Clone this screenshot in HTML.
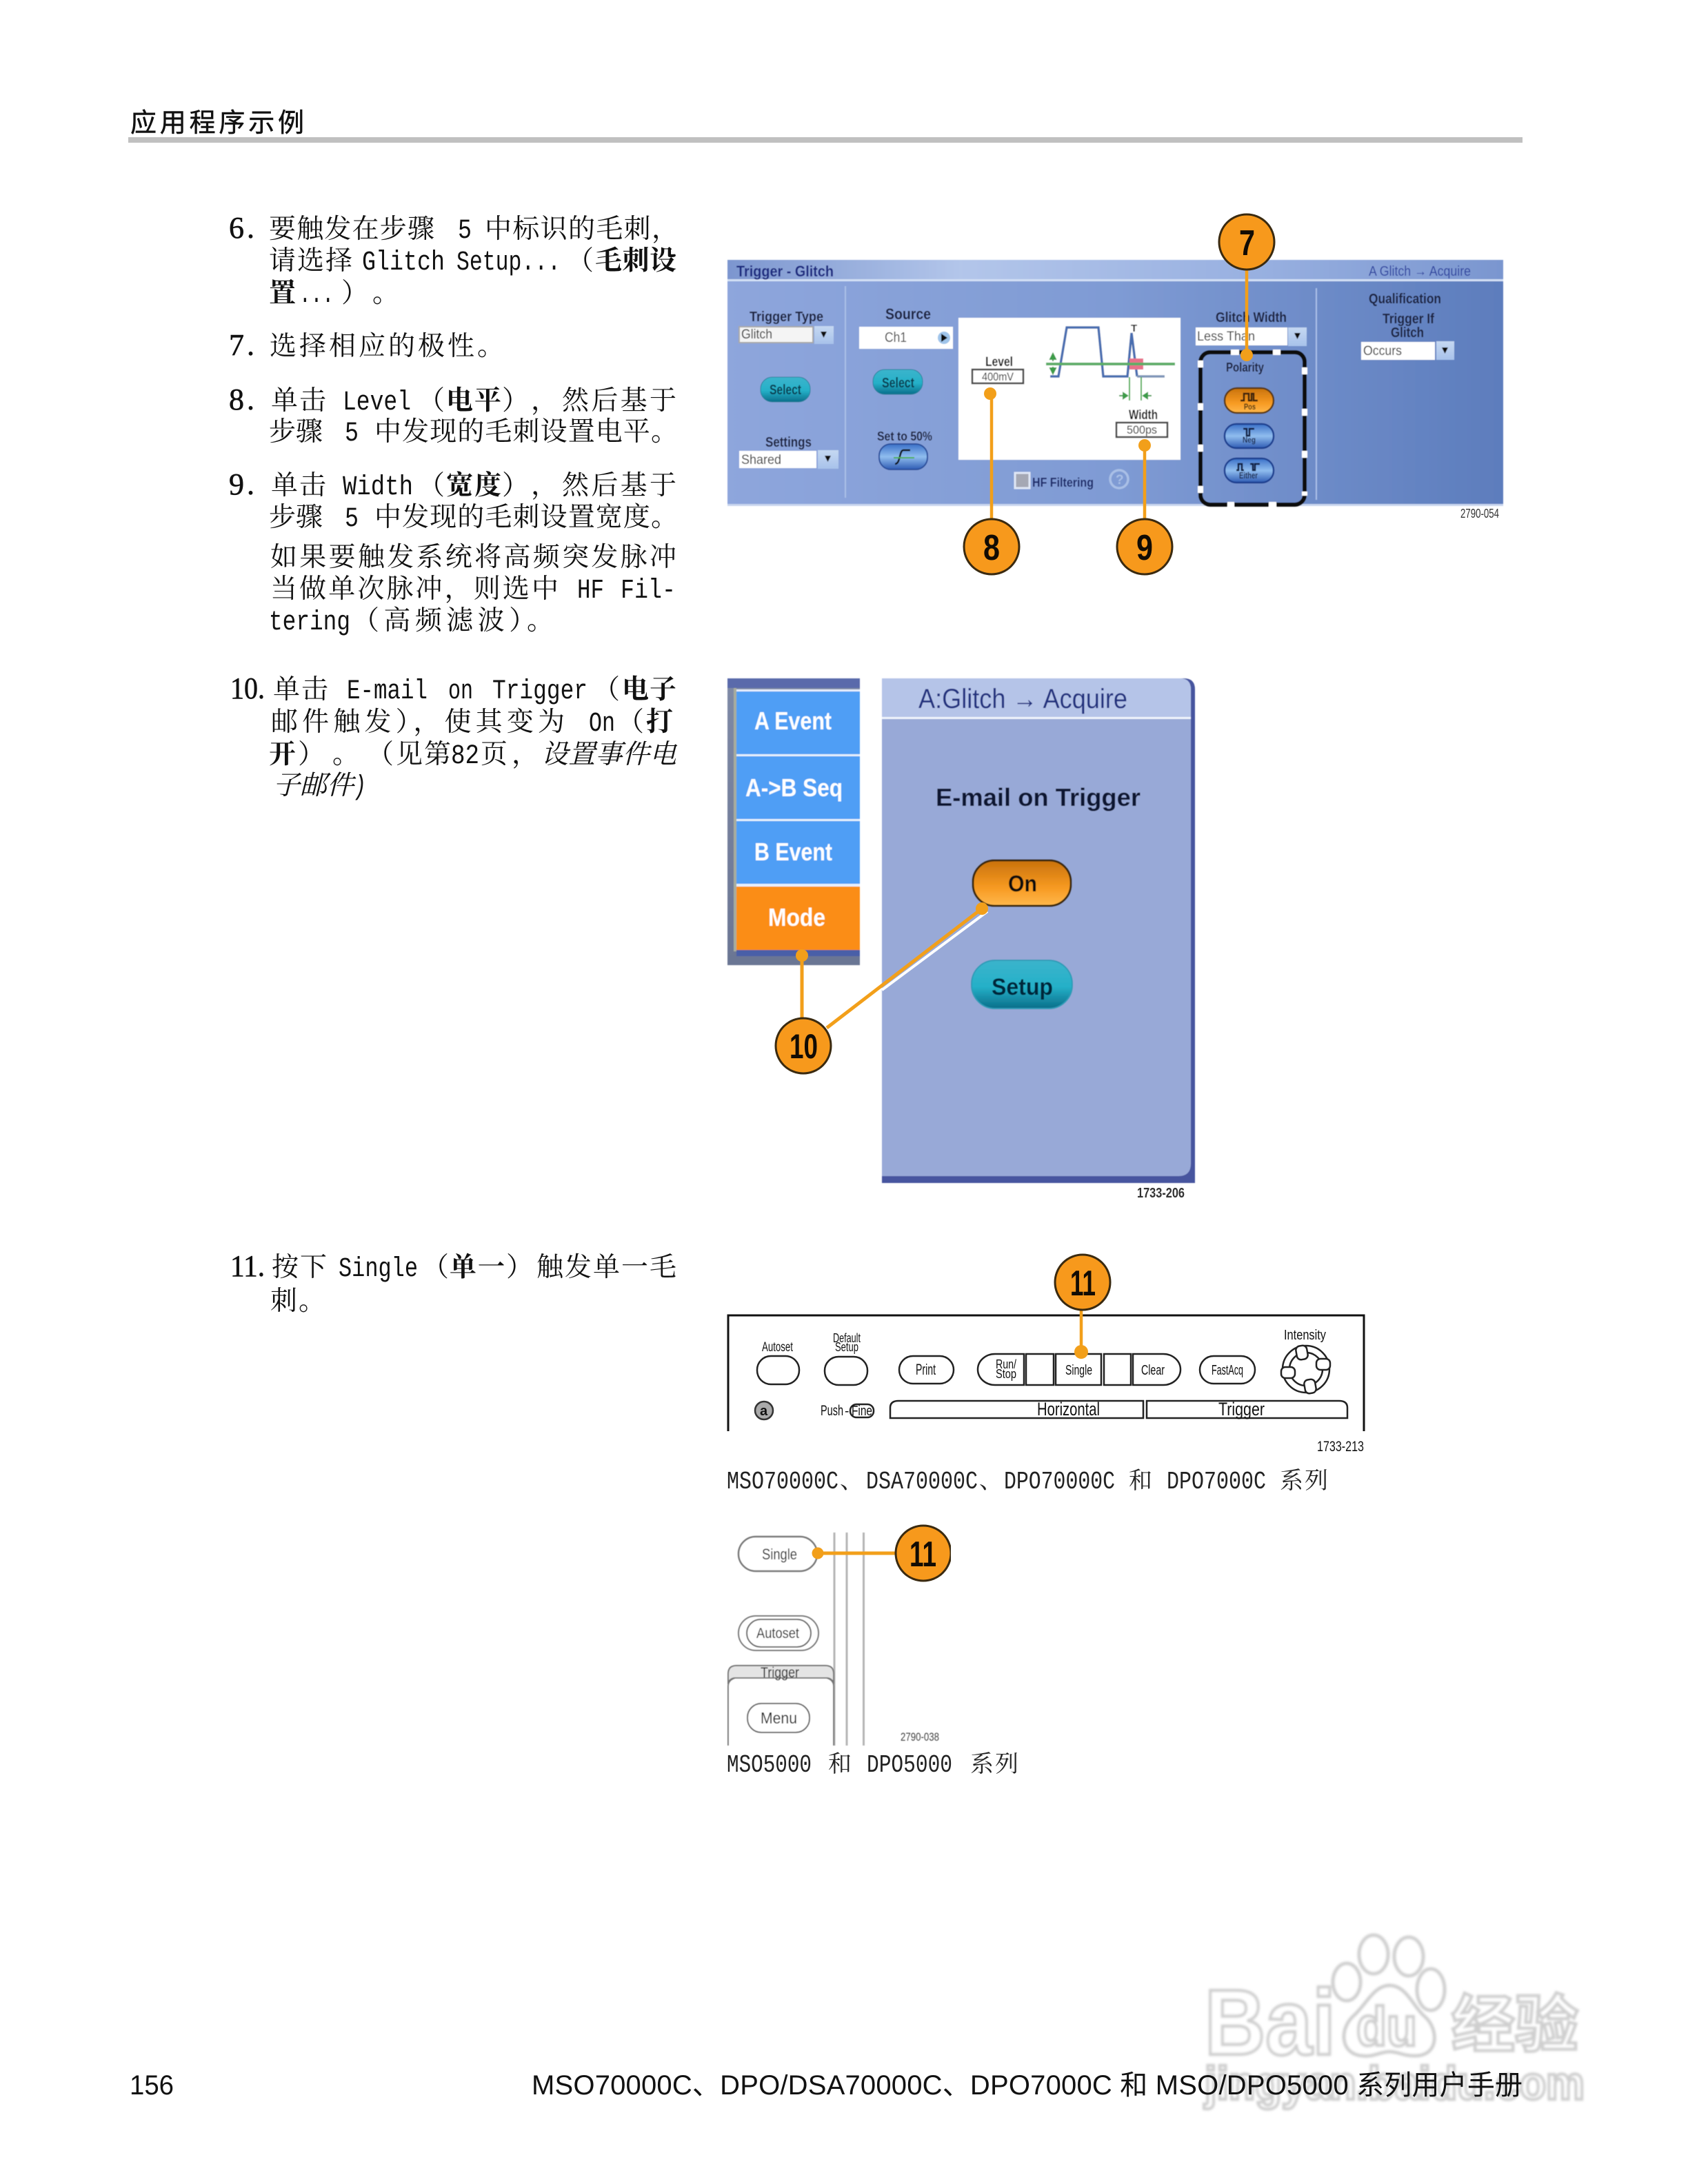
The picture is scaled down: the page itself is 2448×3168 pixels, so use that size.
<!DOCTYPE html>
<html lang="zh"><head><meta charset="utf-8"><title>应用程序示例</title>
<style>
html,body{margin:0;padding:0;background:#fff}
svg{display:block}
text{font-family:"Liberation Sans","Noto Sans CJK SC",sans-serif;fill:#111}
.t{font-family:"Noto Serif CJK SC",serif;font-size:39px;fill:#111}
.tb{font-family:"Noto Serif CJK SC",serif;font-size:39px;fill:#111;font-weight:700}
.ti{font-family:"Noto Serif CJK SC",serif;font-size:39px;fill:#111;font-style:italic}
.m{font-family:"Liberation Mono",monospace;font-size:40px;fill:#111}
.n{font-family:"Liberation Serif",serif;font-size:44px;fill:#111;stroke:#111;stroke-width:.6px}
.c{font-family:"Noto Serif CJK SC",serif;font-size:34px;fill:#222}
.cm{font-family:"Liberation Mono",monospace;font-size:36px;fill:#222}
.u{font-weight:700;fill:#1a2040}
.w{font-weight:700;fill:#fff}
.num{font-weight:700;fill:#120c04}
.k{fill:#111}
.wm{font-weight:700;fill:#fff;stroke:#cfcfcf;stroke-width:4.5px}
</style></head><body>
<svg xmlns="http://www.w3.org/2000/svg" width="2448" height="3168" viewBox="0 0 2448 3168">
<defs>
<linearGradient id="pbg" x1="0" x2="1" y1="0" y2="0"><stop offset="0" stop-color="#8ea6dc"/><stop offset=".5" stop-color="#7f9bd4"/><stop offset="1" stop-color="#5d7dbd"/></linearGradient>
<linearGradient id="tbg" x1="0" x2="1" y1="0" y2="0"><stop offset="0" stop-color="#7c96cf"/><stop offset=".3" stop-color="#b3c6ea"/><stop offset=".7" stop-color="#97afe0"/><stop offset="1" stop-color="#7a96cf"/></linearGradient>
<linearGradient id="teal" x1="0" x2="0" y1="0" y2="1"><stop offset="0" stop-color="#3bb4cc"/><stop offset=".55" stop-color="#25b0c8"/><stop offset="1" stop-color="#0a6e8a"/></linearGradient>
<linearGradient id="blue" x1="0" x2="0" y1="0" y2="1"><stop offset="0" stop-color="#3a70c8"/><stop offset=".5" stop-color="#90bdee"/><stop offset="1" stop-color="#2f5cb4"/></linearGradient>
<linearGradient id="org" x1="0" x2="0" y1="0" y2="1"><stop offset="0" stop-color="#c9720c"/><stop offset=".6" stop-color="#f79a22"/><stop offset="1" stop-color="#ffb84c"/></linearGradient>
<linearGradient id="arr" x1="0" x2="0" y1="0" y2="1"><stop offset="0" stop-color="#c5d8f2"/><stop offset="1" stop-color="#a8c2ea"/></linearGradient>
<linearGradient id="grayb" x1="0" x2="0" y1="0" y2="1"><stop offset="0" stop-color="#7f8aa6"/><stop offset="1" stop-color="#6b7694"/></linearGradient>
<filter id="bl" x="-2%" y="-2%" width="104%" height="104%"><feGaussianBlur stdDeviation="0.55"/></filter>
<filter id="bw" x="-2%" y="-5%" width="104%" height="110%"><feGaussianBlur stdDeviation="1.5"/></filter>
</defs>
<rect width="2448" height="3168" fill="#fff"/>

<!-- watermark -->
<g filter="url(#bw)">
<ellipse cx="1992" cy="2835" rx="21" ry="28" fill="#fff" stroke="#cfcfcf" stroke-width="5"/>
<ellipse cx="2043" cy="2838" rx="21" ry="28" fill="#fff" stroke="#cfcfcf" stroke-width="5"/>
<ellipse cx="1953" cy="2875" rx="20" ry="27" fill="#fff" stroke="#cfcfcf" stroke-width="5"/>
<ellipse cx="2075" cy="2886" rx="20" ry="30" fill="#fff" stroke="#cfcfcf" stroke-width="5"/>
<path d="M2015 2880C2040 2880 2050 2912 2066 2925C2086 2942 2088 2982 2052 2982C2034 2982 2028 2976 2015 2976C2002 2976 1992 2984 1976 2982C1944 2980 1942 2944 1962 2925C1980 2910 1992 2880 2015 2880Z" fill="#fff" stroke="#cfcfcf" stroke-width="5"/>
<text class="wm" x="1747" y="2980" font-size="135" textLength="190" lengthAdjust="spacingAndGlyphs">Bai</text>
<text class="wm" x="1967" y="2967" font-size="80" textLength="88" lengthAdjust="spacingAndGlyphs">du</text>
<text class="wm" x="2105" y="2968" font-size="90" textLength="184" lengthAdjust="spacingAndGlyphs">经验</text>
<text class="wm" x="1747" y="3045" font-size="68" textLength="551" lengthAdjust="spacingAndGlyphs">jingyan.baidu.com</text>
</g>

<!-- header -->
<text x="189" y="191" font-size="38" textLength="252" style="stroke:#111;stroke-width:.5px">应用程序示例</text>
<rect x="186" y="199" width="2022" height="8" fill="#c0c0c0"/>

<!-- step 6 -->
<text class="n" x="332" y="345" letter-spacing="4">6.</text>
<text class="t" x="390" y="345" textLength="240">要触发在步骤</text>
<text class="m" x="664" y="345" textLength="20" lengthAdjust="spacingAndGlyphs">5</text>
<text class="t" x="703" y="345" textLength="281">中标识的毛刺，</text>
<text class="t" x="390" y="391" textLength="121">请选择</text>
<text class="m" x="525" y="391" textLength="120" lengthAdjust="spacingAndGlyphs">Glitch</text>
<text class="m" x="662" y="391" textLength="151" lengthAdjust="spacingAndGlyphs">Setup...</text>
<text class="t" x="822" y="391">（</text>
<text class="tb" x="863" y="391" textLength="118">毛刺设</text>
<text class="tb" x="390" y="438">置</text>
<text class="m" x="434" y="438" textLength="50" lengthAdjust="spacingAndGlyphs">...</text>
<text class="t" x="495" y="438" textLength="84">）。</text>
<!-- step 7 -->
<text class="n" x="332" y="515" letter-spacing="4">7.</text>
<text class="t" x="391" y="515" textLength="340">选择相应的极性。</text>
<!-- step 8 -->
<text class="n" x="332" y="594" letter-spacing="4">8.</text>
<text class="t" x="393" y="594" textLength="80">单击</text>
<text class="m" x="497" y="594" textLength="99" lengthAdjust="spacingAndGlyphs">Level</text>
<text class="t" x="606" y="594">（</text>
<text class="tb" x="647" y="594" textLength="80">电平</text>
<text class="t" x="728" y="594">）</text>
<text class="t" x="770" y="594">，</text>
<text class="t" x="815" y="594" textLength="166">然后基于</text>
<text class="t" x="390" y="639" textLength="78">步骤</text>
<text class="m" x="500" y="639" textLength="20" lengthAdjust="spacingAndGlyphs">5</text>
<text class="t" x="543" y="639" textLength="440">中发现的毛刺设置电平。</text>
<!-- step 9 -->
<text class="n" x="332" y="717" letter-spacing="4">9.</text>
<text class="t" x="393" y="717" textLength="80">单击</text>
<text class="m" x="497" y="717" textLength="102" lengthAdjust="spacingAndGlyphs">Width</text>
<text class="t" x="606" y="717">（</text>
<text class="tb" x="647" y="717" textLength="80">宽度</text>
<text class="t" x="728" y="717">）</text>
<text class="t" x="770" y="717">，</text>
<text class="t" x="815" y="717" textLength="166">然后基于</text>
<text class="t" x="390" y="763" textLength="78">步骤</text>
<text class="m" x="500" y="763" textLength="20" lengthAdjust="spacingAndGlyphs">5</text>
<text class="t" x="543" y="763" textLength="440">中发现的毛刺设置宽度。</text>
<text class="t" x="392" y="821" textLength="589">如果要触发系统将高频突发脉冲</text>
<text class="t" x="392" y="867" textLength="418">当做单次脉冲，则选中</text>
<text class="m" x="837" y="867" textLength="39" lengthAdjust="spacingAndGlyphs">HF</text>
<text class="m" x="900" y="867" textLength="80" lengthAdjust="spacingAndGlyphs">Fil-</text>
<text class="m" x="390" y="913" textLength="118" lengthAdjust="spacingAndGlyphs">tering</text>
<text class="t" x="511" y="913" textLength="292">（高频滤波）。</text>

<!-- step 10 -->
<text class="n" x="334" y="1013" textLength="50" lengthAdjust="spacingAndGlyphs">10.</text>
<text class="t" x="396" y="1013" textLength="80">单击</text>
<text class="m" x="503" y="1013" textLength="117" lengthAdjust="spacingAndGlyphs">E-mail</text>
<text class="m" x="650" y="1013" textLength="36" lengthAdjust="spacingAndGlyphs">on</text>
<text class="m" x="714" y="1013" textLength="138" lengthAdjust="spacingAndGlyphs">Trigger</text>
<text class="t" x="860" y="1013">（</text>
<text class="tb" x="902" y="1013" textLength="79">电子</text>
<text class="t" x="393" y="1060" textLength="426">邮件触发），使其变为</text>
<text class="m" x="854" y="1060" textLength="38" lengthAdjust="spacingAndGlyphs">On</text>
<text class="t" x="895" y="1060">（</text>
<text class="tb" x="937" y="1060">打</text>
<text class="tb" x="390" y="1107">开</text>
<text class="t" x="432" y="1107" textLength="139">）。（</text>
<text class="t" x="574" y="1107" textLength="80">见第</text>
<text class="m" x="654" y="1107" textLength="41" lengthAdjust="spacingAndGlyphs">82</text>
<text class="t" x="697" y="1107" textLength="84">页，</text>
<text class="ti" x="785" y="1107" textLength="196">设置事件电</text>
<text class="ti" x="396" y="1152" textLength="117">子邮件</text>
<text class="m" x="513" y="1152" textLength="18" lengthAdjust="spacingAndGlyphs" font-style="italic">)</text>

<!-- step 11 -->
<text class="n" x="334" y="1851" textLength="50" lengthAdjust="spacingAndGlyphs">11.</text>
<text class="t" x="394" y="1851" textLength="80">按下</text>
<text class="m" x="491" y="1851" textLength="115" lengthAdjust="spacingAndGlyphs">Single</text>
<text class="t" x="612" y="1851">（</text>
<text class="tb" x="652" y="1851" textLength="80">单一</text>
<text class="t" x="734" y="1851">）</text>
<text class="t" x="778" y="1851" textLength="203">触发单一毛</text>
<text class="t" x="392" y="1900" textLength="80">刺。</text>

<!-- captions -->
<text class="cm" x="1054" y="2159" textLength="162" lengthAdjust="spacingAndGlyphs">MSO70000C</text>
<text class="c" x="1218" y="2159">、</text>
<text class="cm" x="1256" y="2159" textLength="162" lengthAdjust="spacingAndGlyphs">DSA70000C</text>
<text class="c" x="1420" y="2159">、</text>
<text class="cm" x="1456" y="2159" textLength="161" lengthAdjust="spacingAndGlyphs">DPO70000C</text>
<text class="c" x="1637" y="2159">和</text>
<text class="cm" x="1692" y="2159" textLength="144" lengthAdjust="spacingAndGlyphs">DPO7000C</text>
<text class="c" x="1856" y="2159" textLength="70">系列</text>
<text class="cm" x="1054" y="2570" textLength="123" lengthAdjust="spacingAndGlyphs">MSO5000</text>
<text class="c" x="1201" y="2570">和</text>
<text class="cm" x="1257" y="2570" textLength="124" lengthAdjust="spacingAndGlyphs">DPO5000</text>
<text class="c" x="1407" y="2570" textLength="70">系列</text>

<!-- footer -->
<text x="188" y="3038" font-size="40" textLength="64" lengthAdjust="spacingAndGlyphs">156</text>
<text x="771" y="3038" font-size="40" textLength="1437">MSO70000C、DPO/DSA70000C、DPO7000C 和 MSO/DPO5000 系列用户手册</text>

<!-- PANEL 1 -->
<g filter="url(#bl)">
<rect x="1055" y="377" width="1125" height="357" fill="url(#pbg)"/>
<rect x="1055" y="377" width="1125" height="29" fill="url(#tbg)"/>
<rect x="1055" y="405" width="1125" height="3" fill="#d3e0f5"/>
<rect x="1055" y="731" width="1125" height="3" fill="#c9d6ee"/>
<rect x="1225" y="415" width="2" height="307" fill="#aac0e8"/>
<rect x="1908" y="418" width="2" height="307" fill="#aac0e8"/>
<text x="1068" y="401" font-size="22" font-weight="700" style="fill:#1a2a80" textLength="141" lengthAdjust="spacingAndGlyphs">Trigger - Glitch</text>
<text x="1985" y="400" font-size="20" style="fill:#2f45a0" textLength="148" lengthAdjust="spacingAndGlyphs">A Glitch → Acquire</text>
<text class="u" x="1087" y="466" font-size="20" textLength="107" lengthAdjust="spacingAndGlyphs">Trigger Type</text>
<rect x="1072" y="474" width="107" height="23" fill="#f4f4f4" stroke="#a9a9a9" stroke-width="2"/>
<rect x="1181" y="473" width="28" height="26" fill="url(#arr)"/>
<path d="M1190 481h9l-4.500 9z" fill="#111"/>
<text x="1075" y="491" font-size="19" style="fill:#333" textLength="45" lengthAdjust="spacingAndGlyphs">Glitch</text>
<rect x="1103" y="547" width="72" height="36" rx="17" fill="url(#teal)" stroke="#2a7f9c"/>
<text x="1116" y="572" font-size="20" font-weight="700" style="fill:#083e50" textLength="46" lengthAdjust="spacingAndGlyphs">Select</text>
<text class="u" x="1110" y="648" font-size="20" textLength="67" lengthAdjust="spacingAndGlyphs">Settings</text>
<rect x="1072" y="654" width="112" height="25" fill="#fff"/>
<rect x="1186" y="653" width="30" height="27" fill="url(#arr)"/>
<path d="M1196 661h9l-4.500 9z" fill="#111"/>
<text x="1075" y="673" font-size="19" style="fill:#333" textLength="58" lengthAdjust="spacingAndGlyphs">Shared</text>
<text class="u" x="1284" y="463" font-size="22" textLength="66" lengthAdjust="spacingAndGlyphs">Source</text>
<rect x="1246" y="474" width="136" height="32" fill="#fff"/>
<text x="1283" y="496" font-size="20" style="fill:#444" textLength="32" lengthAdjust="spacingAndGlyphs">Ch1</text>
<ellipse cx="1369" cy="490" rx="9" ry="9" fill="#9fc4ea"/><path d="M1365 484l9 6-9 6z" fill="#111"/>
<rect x="1266" y="536" width="72" height="36" rx="17" fill="url(#teal)" stroke="#2a7f9c"/>
<text x="1279" y="562" font-size="20" font-weight="700" style="fill:#083e50" textLength="47" lengthAdjust="spacingAndGlyphs">Select</text>
<text class="u" x="1272" y="639" font-size="18" textLength="80" lengthAdjust="spacingAndGlyphs">Set to 50%</text>
<rect x="1275" y="644" width="70" height="37" rx="17" fill="url(#blue)" stroke="#2a4f9c" stroke-width="2"/>
<path d="M1298 673c8 0 6-20 12-20h10" fill="none" stroke="#111" stroke-width="2.500"/>
<path d="M1296 664h30" stroke="#4caf50" stroke-width="2"/>
<rect x="1390" y="461" width="322" height="206" fill="#fff"/>
<text class="k" x="1429" y="531" font-size="19" font-weight="700" textLength="40" lengthAdjust="spacingAndGlyphs">Level</text>
<rect x="1410" y="536" width="74" height="20" fill="#fff" stroke="#444" stroke-width="2.500"/>
<text x="1424" y="552" font-size="17" style="fill:#222" textLength="46" lengthAdjust="spacingAndGlyphs">400mV</text>
<path d="M1523 546h12l12-71h46l7 71h35l6-63 8 63" fill="none" stroke="#4a6eb0" stroke-width="3.500"/>
<path d="M1649 546h40" stroke="#8095b8" stroke-width="3.500"/>
<rect x="1638" y="520" width="20" height="16" fill="#e8718a"/>
<path d="M1517 528h187" stroke="#5cad66" stroke-width="4"/>
<path d="M1527 513l-4 8h8zM1527 542l-4-8h8zM1527 519v5M1527 532v5" fill="#3e9c48" stroke="#3e9c48" stroke-width="2"/>
<path d="M1638 547v34M1655 547v34" stroke="#4caf50" stroke-width="2"/>
<path d="M1623 574h12M1635 574l-6-4v8zM1670 574h-12M1658 574l6-4v8z" fill="#3e9c48" stroke="#3e9c48" stroke-width="2"/>
<text class="k" x="1640" y="481" font-size="15" font-weight="700">T</text>
<text class="k" x="1637" y="608" font-size="19" font-weight="700" textLength="42" lengthAdjust="spacingAndGlyphs">Width</text>
<rect x="1619" y="613" width="74" height="21" fill="#fff" stroke="#444" stroke-width="2.500"/>
<text x="1634" y="629" font-size="17" style="fill:#222" textLength="44" lengthAdjust="spacingAndGlyphs">500ps</text>
<rect x="1472" y="686" width="21" height="22" fill="#a5a8b4" stroke="#dfe6f5" stroke-width="3"/>
<text x="1497" y="706" font-size="18" font-weight="700" style="fill:#1a2a6a" textLength="89" lengthAdjust="spacingAndGlyphs">HF Filtering</text>
<circle cx="1623" cy="695" r="13" fill="none" stroke="#a9bfe6" stroke-width="3.500"/>
<text x="1618" y="702" font-size="19" font-weight="700" style="fill:#a9bfe6">?</text>
<text class="u" x="1763" y="467" font-size="20" textLength="103" lengthAdjust="spacingAndGlyphs">Glitch Width</text>
<rect x="1734" y="475" width="133" height="26" fill="#fff"/>
<rect x="1868" y="475" width="27" height="27" fill="url(#arr)"/>
<path d="M1877 483h9l-4.500 9z" fill="#111"/>
<text x="1736" y="494" font-size="19" style="fill:#333" textLength="84" lengthAdjust="spacingAndGlyphs">Less Than</text>
<!-- dashed polarity frame -->
<rect x="1741" y="511" width="151" height="221" rx="14" fill="none" stroke="#0a0a0a" stroke-width="6"/>
<g fill="#fff">
<rect x="1785" y="507" width="12" height="8"/><rect x="1846" y="507" width="11" height="8"/>
<rect x="1737" y="523" width="8" height="10"/><rect x="1737" y="585" width="8" height="10"/><rect x="1737" y="645" width="8" height="10"/><rect x="1737" y="705" width="8" height="10"/>
<rect x="1888" y="533" width="8" height="10"/><rect x="1888" y="593" width="8" height="10"/><rect x="1888" y="654" width="8" height="10"/><rect x="1888" y="713" width="8" height="6"/>
<rect x="1780" y="728" width="10" height="8"/><rect x="1840" y="728" width="11" height="8"/>
</g>
<text class="u" x="1778" y="539" font-size="18" textLength="55" lengthAdjust="spacingAndGlyphs">Polarity</text>
<rect x="1776" y="563" width="71" height="36" rx="18" fill="url(#org)" stroke="#5a3a14" stroke-width="2.500"/>
<path d="M1799 581h5v-10h7v10h4v-10h3v10h6" fill="none" stroke="#3a2208" stroke-width="2.500"/>
<text x="1804" y="594" font-size="12" font-weight="700" style="fill:#3d2a10" textLength="17" lengthAdjust="spacingAndGlyphs">Pos</text>
<rect x="1776" y="615" width="71" height="35" rx="17" fill="url(#blue)" stroke="#1f3f90" stroke-width="2.500"/>
<path d="M1803 622h5v10h4v-10h7" fill="none" stroke="#0a1a40" stroke-width="2.500"/>
<text x="1802" y="642" font-size="12" font-weight="700" style="fill:#1a2a50" textLength="19" lengthAdjust="spacingAndGlyphs">Neg</text>
<rect x="1776" y="665" width="71" height="35" rx="17" fill="url(#blue)" stroke="#1f3f90" stroke-width="2.500"/>
<path d="M1793 682h3v-9h5v9h3M1813 673h4v9h3v-9h7" fill="none" stroke="#0a1a40" stroke-width="2.500"/>
<text x="1797" y="694" font-size="13" font-weight="700" style="fill:#1a2a50" textLength="27" lengthAdjust="spacingAndGlyphs">Either</text>
<text class="u" x="1985" y="440" font-size="20" textLength="105" lengthAdjust="spacingAndGlyphs">Qualification</text>
<text class="u" x="2005" y="469" font-size="20" textLength="75" lengthAdjust="spacingAndGlyphs">Trigger If</text>
<text class="u" x="2017" y="489" font-size="20" textLength="48" lengthAdjust="spacingAndGlyphs">Glitch</text>
<rect x="1974" y="496" width="107" height="26" fill="#fff"/>
<rect x="2083" y="495" width="26" height="27" fill="url(#arr)"/>
<path d="M2091 504h9l-4.500 9z" fill="#111"/>
<text x="1977" y="515" font-size="19" style="fill:#333" textLength="56" lengthAdjust="spacingAndGlyphs">Occurs</text>
</g>
<text x="2118" y="751" font-size="18" style="fill:#333" textLength="56" lengthAdjust="spacingAndGlyphs">2790-054</text>
<path d="M1808 390v126M1438 571v185M1660 646v110" stroke="#f29f1a" stroke-width="4.500" fill="none"/>
<circle cx="1808" cy="515" r="9" fill="#f29f1a"/><circle cx="1436" cy="571" r="9" fill="#f29f1a"/><circle cx="1660" cy="646" r="9" fill="#f29f1a"/>
<g fill="#f7991c" stroke="#3a2a10" stroke-width="3">
<circle cx="1808" cy="351" r="40"/><circle cx="1438" cy="793" r="40"/><circle cx="1660" cy="793" r="40"/>
</g>
<text class="num" x="1797" y="370" font-size="52" textLength="23" lengthAdjust="spacingAndGlyphs">7</text>
<text class="num" x="1426" y="812" font-size="52" textLength="24" lengthAdjust="spacingAndGlyphs">8</text>
<text class="num" x="1648" y="812" font-size="52" textLength="24" lengthAdjust="spacingAndGlyphs">9</text>

<!-- PANEL 2 -->
<g filter="url(#bl)">
<rect x="1055" y="984" width="192" height="416" fill="url(#grayb)"/>
<rect x="1055" y="984" width="192" height="14" fill="#5a6bab"/>
<rect x="1064" y="998" width="4" height="382" fill="#a8ad9e"/>
<rect x="1068" y="1000" width="179" height="3" fill="#e6eefc"/>
<rect x="1068" y="1003" width="179" height="91" fill="#4f9ef5"/>
<rect x="1068" y="1097" width="179" height="91" fill="#4f9ef5"/>
<rect x="1068" y="1191" width="179" height="91" fill="#4f9ef5"/>
<rect x="1068" y="1094" width="179" height="3" fill="#e6f0fc"/><rect x="1068" y="1188" width="179" height="3" fill="#e6f0fc"/><rect x="1068" y="1282" width="179" height="4" fill="#e6f0fc"/>
<rect x="1068" y="1286" width="179" height="92" fill="#fb8d14"/>
<rect x="1068" y="1378" width="179" height="9" fill="#4a5ea8"/>
<text class="w" x="1094" y="1058" font-size="36" textLength="112" lengthAdjust="spacingAndGlyphs">A Event</text>
<text class="w" x="1081" y="1155" font-size="36" textLength="141" lengthAdjust="spacingAndGlyphs">A-&gt;B Seq</text>
<text class="w" x="1094" y="1248" font-size="36" textLength="113" lengthAdjust="spacingAndGlyphs">B Event</text>
<text class="w" x="1114" y="1343" font-size="36" textLength="83" lengthAdjust="spacingAndGlyphs">Mode</text>
<path d="M1279 984h438q16 0 16 16v716h-454z" fill="#46559f"/>
<path d="M1279 984h432q16 0 16 16v688q0 18-18 18h-430z" fill="#98a9d7"/>
<path d="M1279 984h432q16 0 16 16v40h-448z" fill="#b5c4e8"/>
<rect x="1279" y="1040" width="448" height="3" fill="#f0f4fc"/>
<text x="1332" y="1027" font-size="40" style="fill:#23307f" textLength="303" lengthAdjust="spacingAndGlyphs">A:Glitch → Acquire</text>
<text x="1357" y="1169" font-size="36" font-weight="700" style="fill:#0f1730" textLength="297" lengthAdjust="spacingAndGlyphs">E-mail on Trigger</text>
<rect x="1411" y="1248" width="142" height="66" rx="31" fill="url(#org)" stroke="#3d2a10" stroke-width="3"/>
<text x="1462" y="1293" font-size="33" font-weight="700" style="fill:#111" textLength="42" lengthAdjust="spacingAndGlyphs">On</text>
<rect x="1409" y="1393" width="146" height="70" rx="34" fill="url(#teal)" stroke="#2d9cb8" stroke-width="2"/>
<text x="1438" y="1443" font-size="34" font-weight="700" style="fill:#06283a" textLength="89" lengthAdjust="spacingAndGlyphs">Setup</text>
</g>
<text x="1649" y="1737" font-size="20" font-weight="700" style="fill:#333" textLength="69" lengthAdjust="spacingAndGlyphs">1733-206</text>
<path d="M1279 1436L1432 1322" stroke="#fff" stroke-width="4"/>
<path d="M1163 1385V1480M1199 1491L1424 1318" stroke="#f29f1a" stroke-width="5" fill="none"/>
<circle cx="1424" cy="1318" r="9" fill="#f29f1a"/><circle cx="1163" cy="1386" r="9" fill="#f29f1a"/>
<circle cx="1165" cy="1517" r="40" fill="#f7991c" stroke="#3a2a10" stroke-width="3"/>
<text class="num" x="1145" y="1535" font-size="50" textLength="41" lengthAdjust="spacingAndGlyphs">10</text>

<!-- PANEL 3 -->
<path d="M1056 2076V1908H1978V2076" fill="none" stroke="#111" stroke-width="3"/>
<g fill="#fff" stroke="#222" stroke-width="2.500">
<rect x="1098" y="1967" width="61" height="41" rx="20"/>
<rect x="1196" y="1968" width="62" height="41" rx="20"/>
<rect x="1304" y="1967" width="79" height="40" rx="20"/>
<path d="M1485 1964h-42a25 22.500 0 0 0 0 45h42z"/>
<rect x="1488" y="1964" width="40" height="45"/>
<rect x="1531" y="1964" width="66" height="45"/>
<rect x="1601" y="1964" width="39" height="45"/>
<path d="M1643 1964h44a25 22.500 0 0 1 0 45h-44z"/>
<rect x="1740" y="1967" width="80" height="40" rx="20"/>
<circle cx="1894" cy="1986" r="34"/>
<circle cx="1894" cy="1986" r="24"/>
<rect x="1880" y="1952" width="16" height="20" rx="6" transform="rotate(-10 1888 1962)"/>
<rect x="1909" y="1971" width="20" height="16" rx="6"/>
<rect x="1892" y="2001" width="16" height="20" rx="6" transform="rotate(-10 1900 2011)"/>
<rect x="1858" y="1983" width="20" height="16" rx="6"/>
<path d="M1291 2057v-15q0-10 12-10h355v25z"/>
<path d="M1663 2032h279q12 0 12 10v15h-291z"/>
<rect x="1233" y="2037" width="34" height="19" rx="9"/>
</g>
<ellipse cx="1108" cy="2046" rx="13" ry="13" fill="#aaa" stroke="#333" stroke-width="2.500"/>
<text class="k" x="1102" y="2053" font-size="20" font-weight="700">a</text>
<g>
<text class="k" x="1105" y="1960" font-size="19" textLength="45" lengthAdjust="spacingAndGlyphs">Autoset</text>
<text class="k" x="1208" y="1947" font-size="18" textLength="40" lengthAdjust="spacingAndGlyphs">Default</text>
<text class="k" x="1211" y="1960" font-size="18" textLength="34" lengthAdjust="spacingAndGlyphs">Setup</text>
<text class="k" x="1328" y="1994" font-size="22" textLength="29" lengthAdjust="spacingAndGlyphs">Print</text>
<text class="k" x="1444" y="1985" font-size="18" textLength="30" lengthAdjust="spacingAndGlyphs">Run/</text>
<text class="k" x="1444" y="1999" font-size="18" textLength="30" lengthAdjust="spacingAndGlyphs">Stop</text>
<text class="k" x="1545" y="1994" font-size="20" textLength="39" lengthAdjust="spacingAndGlyphs">Single</text>
<text class="k" x="1655" y="1994" font-size="20" textLength="34" lengthAdjust="spacingAndGlyphs">Clear</text>
<text class="k" x="1757" y="1994" font-size="20" textLength="46" lengthAdjust="spacingAndGlyphs">FastAcq</text>
<text class="k" x="1862" y="1943" font-size="20" textLength="61" lengthAdjust="spacingAndGlyphs">Intensity</text>
<text class="k" x="1190" y="2053" font-size="21" textLength="33" lengthAdjust="spacingAndGlyphs">Push</text>
<text class="k" x="1225" y="2053" font-size="19">-</text>
<text class="k" x="1235" y="2053" font-size="20" textLength="30" lengthAdjust="spacingAndGlyphs">Fine</text>
<text class="k" x="1504" y="2053" font-size="27" textLength="91" lengthAdjust="spacingAndGlyphs">Horizontal</text>
<text class="k" x="1767" y="2053" font-size="27" textLength="67" lengthAdjust="spacingAndGlyphs">Trigger</text>
<text class="k" x="1910" y="2105" font-size="21" textLength="68" lengthAdjust="spacingAndGlyphs">1733-213</text>
</g>
<path d="M1568 1900V1961" stroke="#f29f1a" stroke-width="4.500"/>
<circle cx="1568" cy="1961" r="10" fill="#f29f1a"/>
<circle cx="1570" cy="1860" r="40" fill="#f7991c" stroke="#3a2a10" stroke-width="3"/>
<text class="num" x="1552" y="1879" font-size="52" textLength="37" lengthAdjust="spacingAndGlyphs">11</text>

<!-- PANEL 4 -->
<g filter="url(#bl)">
<path d="M1210 2223V2532M1228 2223V2532M1252.500 2223V2532" stroke="#b5b5b5" stroke-width="3"/>
<rect x="1071" y="2229" width="114" height="50" rx="25" fill="#fff" stroke="#777" stroke-width="2.500"/>
<rect x="1071" y="2344" width="116" height="50" rx="25" fill="#fff" stroke="#777" stroke-width="2"/>
<rect x="1083" y="2349" width="93" height="40" rx="20" fill="#fff" stroke="#666" stroke-width="2"/>
<path d="M1056 2440v-12q0-12 12-12h129q12 0 12 12v12q-4-6-10-6h-133q-6 0-10 6z" fill="#e4e4e4" stroke="#777" stroke-width="2"/>
<path d="M1056 2532V2446q0-9 10-12h133q10 3 10 12V2532" fill="#fff" stroke="#777" stroke-width="2"/>
<rect x="1084" y="2471" width="90" height="42" rx="20" fill="#fff" stroke="#666" stroke-width="2"/>
<text x="1105" y="2262" font-size="22" style="fill:#1c1c1c" textLength="51" lengthAdjust="spacingAndGlyphs">Single</text>
<text x="1097" y="2376" font-size="21" style="fill:#1c1c1c" textLength="62" lengthAdjust="spacingAndGlyphs">Autoset</text>
<text x="1103" y="2433" font-size="21" style="fill:#1c1c1c" textLength="56" lengthAdjust="spacingAndGlyphs">Trigger</text>
<text x="1103" y="2500" font-size="23" style="fill:#1c1c1c" textLength="53" lengthAdjust="spacingAndGlyphs">Menu</text>
<text x="1306" y="2525" font-size="17" style="fill:#444" textLength="56" lengthAdjust="spacingAndGlyphs">2790-038</text>
</g>
<path d="M1186 2253H1300" stroke="#f29f1a" stroke-width="5"/>
<circle cx="1186" cy="2253" r="8.500" fill="#f29f1a"/>
<circle cx="1339" cy="2253" r="40" fill="#f7991c" stroke="#3a2a10" stroke-width="3"/>
<rect x="1379" y="2205" width="8" height="96" fill="#fff"/>
<text class="num" x="1319" y="2272" font-size="52" textLength="39" lengthAdjust="spacingAndGlyphs">11</text>
</svg>
</body></html>
